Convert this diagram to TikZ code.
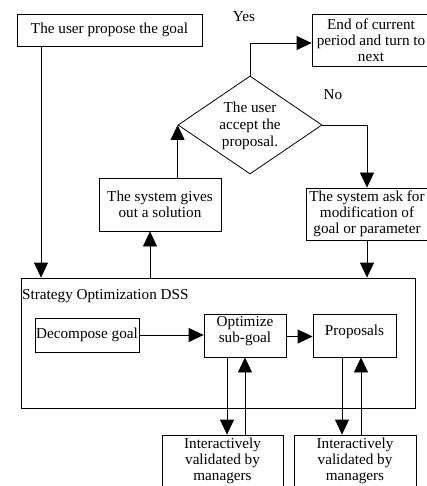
\documentclass[tikz,border=0pt]{standalone}
\usepackage{fontspec}
\setmainfont{Liberation Serif}
\usetikzlibrary{arrows.meta,shapes.geometric}
\begin{document}
\begin{tikzpicture}[x=1pt,y=-1pt,
  ln/.style={line width=0.8pt},
  box/.style={draw,line width=0.8pt,inner sep=0pt,align=center,font=\fontsize{15.2}{16}\selectfont},
  txt/.style={inner sep=0pt,align=center,font=\fontsize{15.2}{16}\selectfont},
  arr/.style={line width=0.8pt,-{Triangle[length=15pt,width=14pt]}}]
\useasboundingbox (0,0) rectangle (427,486);
% boxes
\node[box,minimum width=185pt,minimum height=32pt] (goal) at (109.5,30) {The user propose the goal};
\node[box,minimum width=118pt,minimum height=52pt] (endb) at (371,40) {End of current\\period and turn to\\next};
\node[draw,ln,diamond,minimum width=144pt,minimum height=98pt,inner sep=0pt] (dia) at (250,125) {};
\node[txt,font=\fontsize{15.2}{17}\selectfont] (diat) at (250,126) {The user\\accept the\\proposal.};
\node[box,minimum width=122pt,minimum height=53pt] (sg) at (160,204.5) {The system gives\\out a solution};
\node[box,minimum width=122pt,minimum height=52pt] (ask) at (367,214) {The system ask for\\modification of\\goal or parameter};
\node[draw,ln,minimum width=394pt,minimum height=130pt,inner sep=0pt] (dss) at (218,343) {};
\node[txt,anchor=west] (dsslab) at (22,296) {Strategy Optimization DSS};
\node[box,minimum width=104pt,minimum height=34pt] (dec) at (87,335) {Decompose goal};
\node[draw,ln,minimum width=82pt,minimum height=43pt,inner sep=0pt] (opt) at (245,335.5) {};
\node[txt] (optt) at (245,331) {Optimize\\sub-goal};
\node[draw,ln,minimum width=83pt,minimum height=43pt,inner sep=0pt] (prop) at (354.5,335.5) {};
\node[txt] (propt) at (354.5,332) {Proposals};
\node[box,minimum width=121pt,minimum height=52pt] (int1) at (222.5,461) {Interactively\\validated by\\managers};
\node[box,minimum width=122pt,minimum height=52pt] (int2) at (355,461) {Interactively\\validated by\\managers};
% labels
\node[txt] (yes) at (244,17) {Yes};
\node[txt] (no) at (333,95) {No};
% connectors
\draw[arr] (dia.north) |- ([yshift=-3pt]endb.west);
\draw[arr] (dia.east) -| (ask.north);
\draw[arr] (sg.north -| dia.west) -- (dia.west);
\draw[arr] ([xshift=-10pt]sg.south |- dss.north) -- ([xshift=-10pt]sg.south);
\draw[arr] ([xshift=-68.5pt]goal.south) -- ([xshift=-68.5pt]goal.south |- dss.north);
\draw[arr] (ask.south) -- (ask.south |- dss.north);
\draw[arr] (dec.east) -- (opt.west |- dec.east);
\draw[arr] ([yshift=-1pt]opt.east) -- ([yshift=-1pt]prop.west);
\draw[arr] ([xshift=-18pt]opt.south) -- ([xshift=-18pt]opt.south |- int1.north);
\draw[arr] (opt.south |- int1.north) -- (opt.south);
\draw[arr] ([xshift=-12.5pt]prop.south) -- ([xshift=-12.5pt]prop.south |- int2.north);
\draw[arr] ([xshift=6.5pt]prop.south |- int2.north) -- ([xshift=6.5pt]prop.south);
\end{tikzpicture}
\end{document}
